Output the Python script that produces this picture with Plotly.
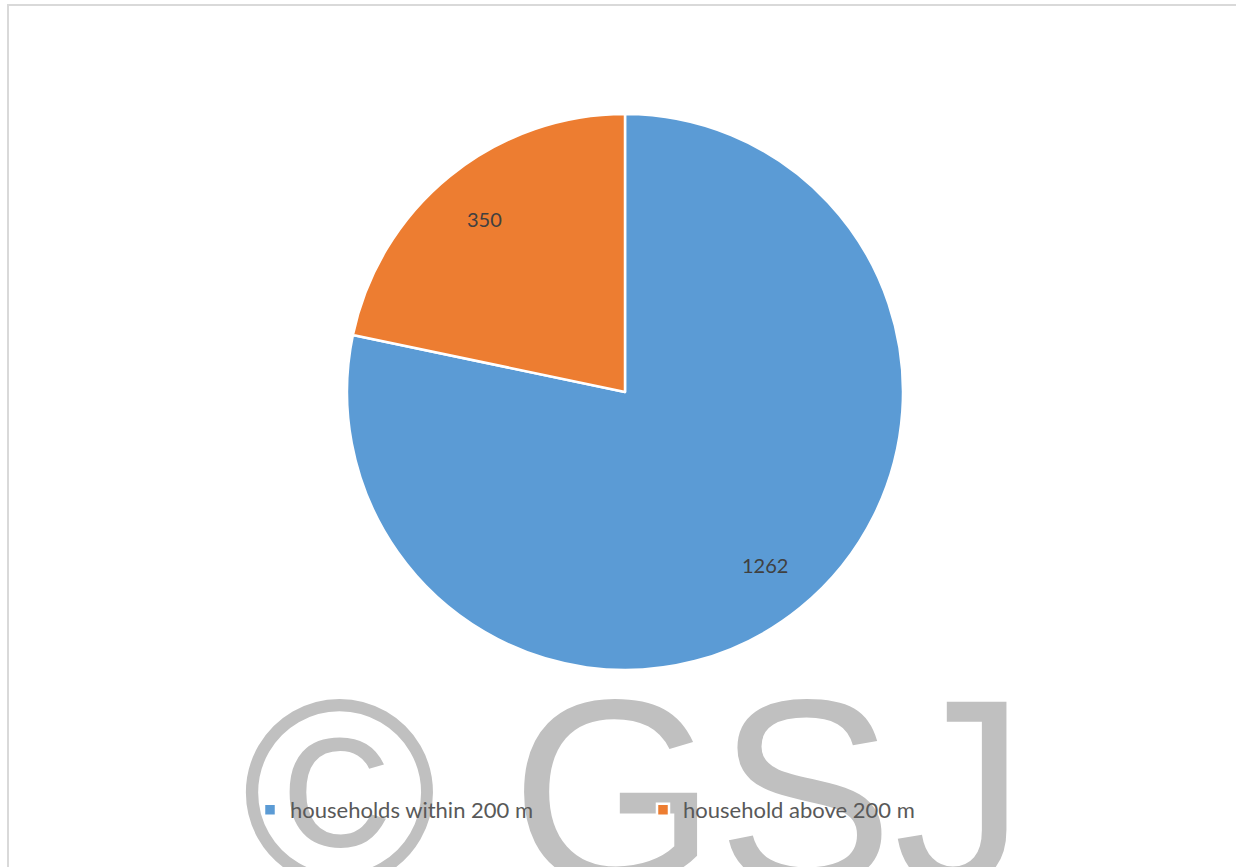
import math
import plotly.graph_objects as go

categories = ["households within 200 m", "household above 200 m"]
values = [1262, 350]
colors = ["#5B9BD5", "#ED7D31"]
watermark = "© GSJ"

W, H = 1236, 867
cx, cy, r = 625, 392, 278
label_r = 0.8

fig = go.Figure(go.Pie(
    labels=categories,
    values=values,
    sort=False,
    direction="clockwise",
    rotation=0,
    marker=dict(colors=colors, line=dict(color="white", width=2.5)),
    textinfo="none",
    hoverinfo="label+value",
    domain=dict(x=[(cx - r) / W, (cx + r) / W], y=[1 - (cy + r) / H, 1 - (cy - r) / H]),
))

# value labels placed at each slice's mid-angle (derived from the data)
annotations = []
total = sum(values)
start = 0.0
for v in values:
    mid = start + v / total * 180.0  # degrees, clockwise from 12 o'clock
    start += v / total * 360.0
    a = math.radians(mid)
    px = cx + label_r * r * math.sin(a)
    py = cy - label_r * r * math.cos(a)
    annotations.append(dict(
        text=str(v), xref="paper", yref="paper",
        x=px / W, y=1 - py / H, xanchor="center", yanchor="middle",
        showarrow=False,
        font=dict(family="Lato", size=20, color="#404040"),
    ))

fig.update_layout(
    width=W, height=H,
    margin=dict(l=0, r=0, t=0, b=0),
    paper_bgcolor="white",
    plot_bgcolor="white",
    showlegend=True,
    legend=dict(
        orientation="h",
        x=250 / W, xanchor="left",
        y=1 - 810 / H, yanchor="middle",
        entrywidth=348, entrywidthmode="pixels",
        font=dict(family="Lato", size=22, color="#595959"),
        bgcolor="rgba(0,0,0,0)",
    ),
    shapes=[
        dict(
            type="rect", xref="paper", yref="paper",
            x0=8 / W, x1=1.02, y0=-0.02, y1=1 - 5 / H,
            line=dict(color="#d9d9d9", width=2), layer="below",
        ),
        dict(
            type="rect", xref="paper", yref="paper",
            x0=243 / W, x1=1025 / W, y0=1 - 862 / H, y1=1 - 672 / H,
            line=dict(width=0), fillcolor="rgba(0,0,0,0)", layer="below",
            label=dict(
                text=watermark, textposition="middle center",
                font=dict(family="Liberation Sans", size=265, color="#c0c0c0"),
            ),
        ),
    ],
    annotations=annotations,
)

fig.write_html("out.html")
